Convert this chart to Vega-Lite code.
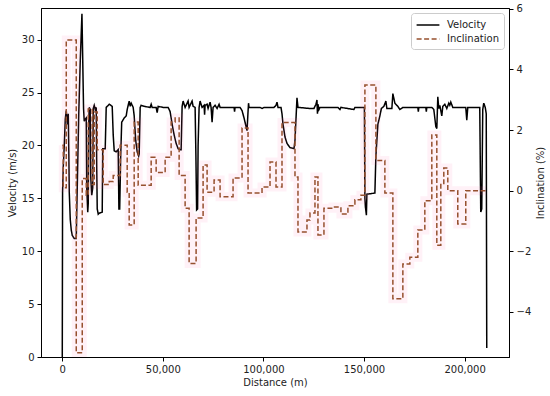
{
  "$schema": "https://vega.github.io/schema/vega-lite/v6.json",
  "width": 468,
  "height": 349,
  "autosize": {"type": "none"},
  "padding": {"left": 41, "top": 8, "right": 41, "bottom": 39},
  "background": "white",
  "config": {
    "view": {"stroke": "black", "strokeWidth": 1},
    "axis": {
      "domainColor": "black", "tickColor": "black", "tickSize": 4, "tickWidth": 1,
      "labelFontSize": 10, "titleFontSize": 10, "labelFont": "DejaVu Sans", "titleFont": "DejaVu Sans",
      "titleFontWeight": "normal", "labelColor": "#222222", "titleColor": "#222222", "grid": false, "labelPadding": 3
    },
    "legend": {
      "orient": "none", "legendX": 370, "legendY": 5, "fillColor": "white", "strokeColor": "#cccccc",
      "cornerRadius": 3, "padding": 5, "labelFontSize": 10, "labelFont": "DejaVu Sans", "labelColor": "#222222",
      "symbolType": "M-1.9,0H1.9", "symbolSize": 144, "symbolStrokeWidth": 1.5, "symbolOffset": 5, "labelOffset": 12, "rowPadding": 2
    }
  },
  "datasets": {
    "vel": [
      {"distance":0,"velocity":0},{"distance":149,"velocity":15.6},{"distance":497,"velocity":18},{"distance":993,"velocity":20},{"distance":1490,"velocity":22.5},{"distance":1986,"velocity":23.3},{"distance":2483,"velocity":22},{"distance":2979,"velocity":23.0},{"distance":3277,"velocity":19},{"distance":3476,"velocity":15.6},{"distance":3972,"velocity":13},{"distance":4469,"velocity":12},{"distance":4965,"velocity":11.5},{"distance":5958,"velocity":11.2},{"distance":6951,"velocity":11.2},{"distance":7448,"velocity":16},{"distance":8192,"velocity":23},{"distance":8937,"velocity":28},{"distance":9781,"velocity":32.45},{"distance":10178,"velocity":28},{"distance":10575,"velocity":23.5},{"distance":10923,"velocity":22.3},{"distance":11420,"velocity":22.5},{"distance":11916,"velocity":22.6},{"distance":12164,"velocity":16},{"distance":12661,"velocity":13.7},{"distance":12909,"velocity":14.5},{"distance":13157,"velocity":22},{"distance":13406,"velocity":23.6},{"distance":13902,"velocity":23.4},{"distance":14150,"velocity":17},{"distance":14647,"velocity":15.3},{"distance":15143,"velocity":16},{"distance":15392,"velocity":23.5},{"distance":15888,"velocity":23.8},{"distance":16385,"velocity":23.4},{"distance":16881,"velocity":23.6},{"distance":17129,"velocity":18},{"distance":17378,"velocity":14.0},{"distance":17874,"velocity":13.5},{"distance":18371,"velocity":13.6},{"distance":19860,"velocity":13.7},{"distance":20108,"velocity":19.7},{"distance":21350,"velocity":19.7},{"distance":21846,"velocity":23.6},{"distance":22343,"velocity":23.7},{"distance":23336,"velocity":23.9},{"distance":24825,"velocity":23.7},{"distance":25322,"velocity":21},{"distance":25818,"velocity":19.5},{"distance":26811,"velocity":19.4},{"distance":27804,"velocity":19.6},{"distance":28152,"velocity":14},{"distance":28549,"velocity":14},{"distance":29045,"velocity":19},{"distance":29542,"velocity":22.2},{"distance":30783,"velocity":22.6},{"distance":31776,"velocity":22.8},{"distance":32273,"velocity":23.4},{"distance":32769,"velocity":23.8},{"distance":33266,"velocity":24.2},{"distance":33762,"velocity":23.7},{"distance":34259,"velocity":24.0},{"distance":35252,"velocity":23.6},{"distance":35748,"velocity":22.8},{"distance":36493,"velocity":20.5},{"distance":37238,"velocity":19.4},{"distance":37982,"velocity":19.0},{"distance":38231,"velocity":19.2},{"distance":38727,"velocity":23.6},{"distance":39224,"velocity":23.8},{"distance":40713,"velocity":23.7},{"distance":43692,"velocity":23.6},{"distance":44189,"velocity":23.9},{"distance":44686,"velocity":23.6},{"distance":46671,"velocity":23.6},{"distance":47168,"velocity":23.1},{"distance":47664,"velocity":23.7},{"distance":50147,"velocity":23.6},{"distance":52629,"velocity":23.6},{"distance":53622,"velocity":23.2},{"distance":54615,"velocity":22.0},{"distance":55608,"velocity":21.0},{"distance":56601,"velocity":20.2},{"distance":57594,"velocity":19.7},{"distance":58587,"velocity":19.6},{"distance":59084,"velocity":19.6},{"distance":59580,"velocity":23.7},{"distance":60077,"velocity":24.2},{"distance":61070,"velocity":23.6},{"distance":62559,"velocity":24.2},{"distance":63056,"velocity":23.6},{"distance":64545,"velocity":24.2},{"distance":65042,"velocity":23.7},{"distance":66035,"velocity":23.6},{"distance":66432,"velocity":19},{"distance":66779,"velocity":13.9},{"distance":67276,"velocity":14},{"distance":67524,"velocity":20},{"distance":68021,"velocity":23.6},{"distance":68517,"velocity":24.2},{"distance":69510,"velocity":23.6},{"distance":70503,"velocity":23.8},{"distance":70751,"velocity":22.9},{"distance":71000,"velocity":23.8},{"distance":71993,"velocity":23.9},{"distance":72489,"velocity":23.5},{"distance":73482,"velocity":24.1},{"distance":73979,"velocity":23.6},{"distance":74475,"velocity":22.2},{"distance":74972,"velocity":23.6},{"distance":75965,"velocity":23.8},{"distance":76958,"velocity":23.5},{"distance":77951,"velocity":23.9},{"distance":78447,"velocity":23.6},{"distance":85398,"velocity":23.6},{"distance":85646,"velocity":23.2},{"distance":85895,"velocity":23.6},{"distance":88377,"velocity":23.6},{"distance":89370,"velocity":23.3},{"distance":90363,"velocity":22.6},{"distance":91356,"velocity":21.8},{"distance":91853,"velocity":21.4},{"distance":92349,"velocity":23.2},{"distance":92597,"velocity":24.0},{"distance":92846,"velocity":23.6},{"distance":98307,"velocity":23.6},{"distance":99300,"velocity":23.5},{"distance":100293,"velocity":23.6},{"distance":105258,"velocity":23.6},{"distance":106251,"velocity":23.8},{"distance":106748,"velocity":24.1},{"distance":107244,"velocity":23.6},{"distance":108734,"velocity":23.6},{"distance":109230,"velocity":23.0},{"distance":109727,"velocity":22.0},{"distance":110720,"velocity":20.8},{"distance":111713,"velocity":20.2},{"distance":113202,"velocity":19.8},{"distance":115188,"velocity":19.7},{"distance":115685,"velocity":20.5},{"distance":116181,"velocity":22.5},{"distance":116678,"velocity":24.5},{"distance":117174,"velocity":23.6},{"distance":123132,"velocity":23.5},{"distance":125118,"velocity":23.5},{"distance":126111,"velocity":23.9},{"distance":126608,"velocity":24.3},{"distance":126856,"velocity":23.0},{"distance":127104,"velocity":23.9},{"distance":127601,"velocity":23.4},{"distance":128097,"velocity":23.6},{"distance":137034,"velocity":23.6},{"distance":138027,"velocity":23.4},{"distance":138524,"velocity":23.6},{"distance":144978,"velocity":23.4},{"distance":145475,"velocity":23.6},{"distance":150191,"velocity":23.6},{"distance":150440,"velocity":15},{"distance":150688,"velocity":14.2},{"distance":151184,"velocity":13.4},{"distance":151433,"velocity":15.4},{"distance":155405,"velocity":15.5},{"distance":155901,"velocity":19},{"distance":156894,"velocity":22.0},{"distance":157887,"velocity":22.8},{"distance":158632,"velocity":23.5},{"distance":159873,"velocity":23.7},{"distance":160866,"velocity":24.2},{"distance":161363,"velocity":23.5},{"distance":163845,"velocity":23.5},{"distance":164342,"velocity":24.9},{"distance":165335,"velocity":24.0},{"distance":166824,"velocity":23.7},{"distance":167817,"velocity":23.4},{"distance":169307,"velocity":23.6},{"distance":176754,"velocity":23.6},{"distance":177002,"velocity":23.2},{"distance":177251,"velocity":23.6},{"distance":180726,"velocity":23.6},{"distance":180974,"velocity":23.2},{"distance":181223,"velocity":23.6},{"distance":183705,"velocity":23.6},{"distance":184698,"velocity":23.4},{"distance":185691,"velocity":21.8},{"distance":186188,"velocity":21.6},{"distance":186684,"velocity":24.6},{"distance":187181,"velocity":23.5},{"distance":187677,"velocity":23.8},{"distance":188670,"velocity":22.8},{"distance":189167,"velocity":23.7},{"distance":190160,"velocity":23.9},{"distance":191153,"velocity":23.5},{"distance":192146,"velocity":24.0},{"distance":192642,"velocity":23.8},{"distance":193139,"velocity":24.1},{"distance":194132,"velocity":23.6},{"distance":200586,"velocity":23.6},{"distance":201083,"velocity":22.4},{"distance":201579,"velocity":23.6},{"distance":207537,"velocity":23.6},{"distance":208034,"velocity":13.7},{"distance":208530,"velocity":14.0},{"distance":209027,"velocity":23.4},{"distance":209523,"velocity":24.0},{"distance":210268,"velocity":23.6},{"distance":210764,"velocity":23.0},{"distance":211013,"velocity":0.85}
    ],
    "inc": [
      {"distance":0,"inclination":1.5},{"distance":497,"inclination":0.1},{"distance":1986,"inclination":4.97},{"distance":6951,"inclination":-5.35},{"distance":9930,"inclination":0.4},{"distance":11916,"inclination":-0.15},{"distance":12909,"inclination":2.7},{"distance":14895,"inclination":0.2},{"distance":15888,"inclination":2.6},{"distance":17378,"inclination":1.35},{"distance":20357,"inclination":0.2},{"distance":23336,"inclination":0.3},{"distance":25322,"inclination":0.5},{"distance":28797,"inclination":1.5},{"distance":32273,"inclination":-0.05},{"distance":33266,"inclination":-1.13},{"distance":35748,"inclination":2.27},{"distance":37734,"inclination":0.18},{"distance":44189,"inclination":1.1},{"distance":46671,"inclination":0.6},{"distance":51140,"inclination":1.1},{"distance":54119,"inclination":2.27},{"distance":56105,"inclination":2.4},{"distance":58091,"inclination":0.5},{"distance":61070,"inclination":-0.58},{"distance":63056,"inclination":-2.4},{"distance":66531,"inclination":-0.9},{"distance":70006,"inclination":0.85},{"distance":71993,"inclination":-0.05},{"distance":75468,"inclination":0.35},{"distance":78447,"inclination":-0.2},{"distance":84902,"inclination":0.42},{"distance":89370,"inclination":2.07},{"distance":92349,"inclination":-0.08},{"distance":99300,"inclination":0.12},{"distance":103272,"inclination":0.95},{"distance":106251,"inclination":0.12},{"distance":109230,"inclination":2.25},{"distance":115685,"inclination":0.45},{"distance":117174,"inclination":-1.36},{"distance":121643,"inclination":-0.97},{"distance":123132,"inclination":-0.74},{"distance":125615,"inclination":0.45},{"distance":127104,"inclination":-1.46},{"distance":130083,"inclination":-0.58},{"distance":134552,"inclination":-0.54},{"distance":138524,"inclination":-0.77},{"distance":142000,"inclination":-0.5},{"distance":145475,"inclination":-0.3},{"distance":148454,"inclination":-0.15},{"distance":150440,"inclination":3.49},{"distance":155901,"inclination":1.0},{"distance":160370,"inclination":-0.08},{"distance":164342,"inclination":-3.57},{"distance":169307,"inclination":-2.42},{"distance":172782,"inclination":-2.2},{"distance":176754,"inclination":-1.3},{"distance":180229,"inclination":-0.33},{"distance":183705,"inclination":1.84},{"distance":186188,"inclination":-1.8},{"distance":188174,"inclination":0.2},{"distance":189663,"inclination":0.75},{"distance":191649,"inclination":0.0},{"distance":196614,"inclination":-1.1},{"distance":200586,"inclination":0.0},{"distance":210516,"inclination":0.0}
    ]
  },
  "layer": [
    {
      "data": {"name": "vel"},
      "mark": {"type": "line", "strokeWidth": 1.5, "interpolate": "linear", "clip": true},
      "encoding": {
        "x": {"field": "distance", "type": "quantitative", "scale": {"domain": [-10575, 222075], "nice": false, "zero": false},
              "axis": {"values": [0, 50000, 100000, 150000, 200000], "format": ",d", "title": "Distance (m)", "titlePadding": 3}},
        "y": {"field": "velocity", "type": "quantitative", "scale": {"domain": [0, 33], "nice": false, "zero": false},
              "axis": {"values": [0, 5, 10, 15, 20, 25, 30], "title": "Velocity (m/s)", "titlePadding": 4}},
        "color": {"datum": "Velocity", "type": "nominal", "scale": {"domain": ["Velocity", "Inclination"], "range": ["black", "#96502e"]}, "legend": {"title": null}},
        "strokeDash": {"datum": "Velocity", "type": "nominal", "scale": {"domain": ["Velocity", "Inclination"], "range": [[1, 0], [5, 2.5]]}, "legend": {"title": null}}
      }
    },
    {
      "data": {"name": "inc"},
      "encoding": {
        "x": {"field": "distance", "type": "quantitative", "scale": {"domain": [-10575, 222075], "nice": false, "zero": false},
              "axis": {"values": [0, 50000, 100000, 150000, 200000], "format": ",d", "title": "Distance (m)", "titlePadding": 3}},
        "y": {"field": "inclination", "type": "quantitative", "scale": {"domain": [-5.49, 6.03], "nice": false, "zero": false},
              "axis": {"orient": "right", "values": [-4, -2, 0, 2, 4, 6], "title": "Inclination (%)", "titleAngle": 270, "titleBaseline": "top", "titlePadding": 5}}
      },
      "layer": [
        {
          "mark": {"type": "line", "interpolate": "step-after", "strokeWidth": 9, "color": "#ff66aa", "opacity": 0.09, "clip": true}
        },
        {
          "mark": {"type": "line", "interpolate": "step-after", "strokeWidth": 1.5, "clip": true},
          "encoding": {
            "color": {"datum": "Inclination", "type": "nominal", "scale": {"domain": ["Velocity", "Inclination"], "range": ["black", "#96502e"]}, "legend": {"title": null}},
            "strokeDash": {"datum": "Inclination", "type": "nominal", "scale": {"domain": ["Velocity", "Inclination"], "range": [[1, 0], [5, 2.5]]}, "legend": {"title": null}}
          }
        }
      ]
    }
  ],
  "resolve": {"scale": {"y": "independent"}}
}
